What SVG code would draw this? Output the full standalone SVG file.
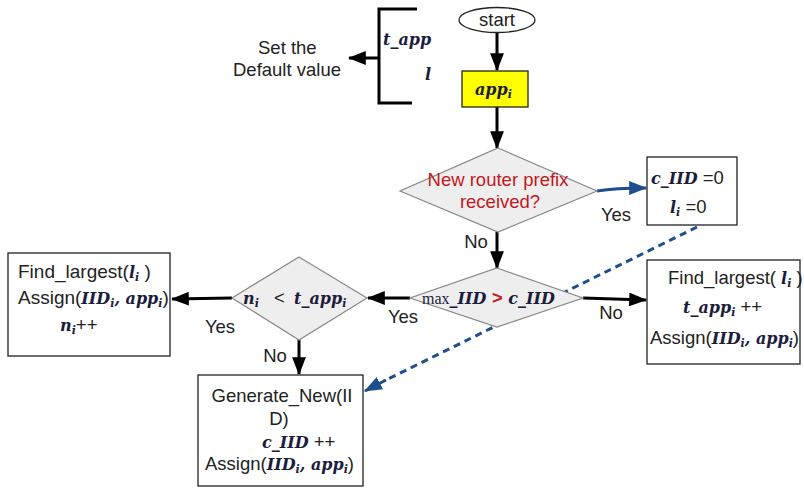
<svg xmlns="http://www.w3.org/2000/svg" width="804" height="488" viewBox="0 0 804 488">
<style>
.t{font-family:"Liberation Sans",Arial,sans-serif;font-size:18.5px;fill:#222}
.b{font-size:19px}
.m{font-family:"DejaVu Serif","Liberation Serif",serif;font-weight:bold;font-style:italic;fill:#1c1c3c;font-size:16px}
.s{font-size:11px}
.red{fill:#c0191e}
.box{fill:#fff;stroke:#222;stroke-width:1.3}
.dia{fill:#eeeeee;stroke:#888;stroke-width:1.2}
.arr{stroke:#000;stroke-width:3;fill:none}
.blue{stroke:#1f4e8c;stroke-width:3;fill:none}
.dash{stroke:#1f4e8c;stroke-width:3;fill:none;stroke-dasharray:7,5}
</style>
<defs>
<marker id="ah" markerWidth="6" markerHeight="4.6" refX="5.6" refY="2.3" orient="auto" markerUnits="strokeWidth"><path d="M0,0 L6,2.3 L0,4.6 z" fill="#000"/></marker>
<marker id="bh" markerWidth="6" markerHeight="4.6" refX="5.6" refY="2.3" orient="auto" markerUnits="strokeWidth"><path d="M0,0 L6,2.3 L0,4.6 z" fill="#1f4e8c"/></marker>
</defs>
<rect width="804" height="488" fill="#fff"/>

<g id="connectors">
<line class="arr" x1="497" y1="33" x2="497" y2="70" marker-end="url(#ah)"/>
<line class="arr" x1="497" y1="107" x2="497" y2="148" marker-end="url(#ah)"/>
<line class="arr" x1="379" y1="58" x2="349" y2="58" marker-end="url(#ah)"/>
<path class="blue" d="M597,191 Q615,188 646,188" marker-end="url(#bh)"/>
<line class="arr" x1="497" y1="232" x2="497" y2="268" marker-end="url(#ah)"/>
<line class="arr" x1="583" y1="298" x2="646" y2="300" marker-end="url(#ah)"/>
<line class="arr" x1="410" y1="298" x2="368" y2="298" marker-end="url(#ah)"/>
<line class="arr" x1="232" y1="298" x2="172" y2="299" marker-end="url(#ah)"/>
<line class="arr" x1="299" y1="340" x2="299" y2="374" marker-end="url(#ah)"/>
<line class="dash" x1="697" y1="227" x2="384" y2="381"/>
<line class="blue" x1="386" y1="380" x2="365" y2="391" marker-end="url(#bh)"/>
<text class="t" x="616" y="221" text-anchor="middle">Yes</text>
<text class="t" x="476" y="248" text-anchor="middle">No</text>
<text class="t" x="611" y="319" text-anchor="middle">No</text>
<text class="t" x="403" y="323" text-anchor="middle">Yes</text>
<text class="t" x="220" y="333" text-anchor="middle">Yes</text>
<text class="t" x="275" y="362" text-anchor="middle">No</text>
</g>

<g id="start">
<ellipse cx="497" cy="20" rx="38" ry="12.5" fill="#fff" stroke="#222" stroke-width="1.3"/>
<text class="t" x="497" y="26" text-anchor="middle">start</text>
</g>

<g id="app">
<rect x="462" y="71" width="66" height="36" fill="#ffff00" stroke="#222" stroke-width="1.3"/>
<text class="m" x="475" y="95">app<tspan class="s" dy="3">i</tspan></text>
</g>

<g id="defaults">
<path d="M417,9 H379 V103 H412" fill="none" stroke="#000" stroke-width="3"/>
<text class="m" x="383" y="45" font-size="17">t_app</text>
<text class="m" x="425" y="80" font-size="18">l</text>
<text class="t" x="258" y="54">Set the</text>
<text class="t" x="233" y="76">Default value</text>
</g>

<g id="decision1">
<polygon class="dia" points="498,148 597,191 498,232 400,191"/>
<text class="t red" x="498" y="186" text-anchor="middle" font-size="18">New router prefix</text>
<text class="t red" x="500" y="208" text-anchor="middle" font-size="18">received?</text>
</g>

<g id="reset">
<rect class="box" x="647" y="157" width="90" height="68"/>
<text x="651" y="184"><tspan class="m">c_IID</tspan><tspan class="t"> =0</tspan></text>
<text x="670" y="213"><tspan class="m" font-size="20">l</tspan><tspan class="m s" dy="3">i</tspan><tspan class="t" dy="-3"> =0</tspan></text>
</g>

<g id="decision2">
<polygon class="dia" points="497,268 583,298 497,327 410,298"/>
<text x="422" y="304"><tspan font-family="Liberation Serif,serif" font-size="16" fill="#1c1c3c">max</tspan><tspan class="m" font-size="15">_IID </tspan><tspan class="t red" font-weight="bold" font-size="20">&gt;</tspan><tspan class="m"> c_IID</tspan></text>
</g>

<g id="decision3">
<polygon class="dia" points="299,257 367,298 299,340 232,298"/>
<text y="304"><tspan class="m" font-size="19" x="243">n</tspan><tspan class="m s" dy="3">i</tspan><tspan class="t" dy="-3" x="274">&lt;</tspan><tspan class="m" font-size="18.5" x="294">t_app</tspan><tspan class="m s" dy="3">i</tspan></text>
</g>

<g id="leftbox">
<rect class="box" x="8" y="253" width="162" height="103"/>
<text x="18" y="278"><tspan class="t b">Find_largest(</tspan><tspan class="m" font-size="21">l</tspan><tspan class="m s" dy="3">i</tspan><tspan class="t b" dy="-3"> )</tspan></text>
<text x="18" y="304"><tspan class="t b">Assign(</tspan><tspan class="m">IID</tspan><tspan class="m s" dy="3">i</tspan><tspan class="m" dy="-3">, app</tspan><tspan class="m s" dy="3">i</tspan><tspan class="t b" dy="-3">)</tspan></text>
<text x="60" y="331"><tspan class="m" font-size="20">n</tspan><tspan class="m s" dy="3">i</tspan><tspan class="t" dy="-3">++</tspan></text>
</g>

<g id="rightbox">
<rect class="box" x="647" y="260" width="153" height="104"/>
<text x="668" y="284"><tspan class="t">Find_largest( </tspan><tspan class="m" font-size="21">l</tspan><tspan class="m s" dy="3">i</tspan><tspan class="t" dy="-3"> )</tspan></text>
<text x="683" y="313"><tspan class="m" font-size="17">t_app</tspan><tspan class="m s" dy="3">i</tspan><tspan class="t" dy="-3"> ++</tspan></text>
<text x="650" y="344"><tspan class="t">Assign(</tspan><tspan class="m">IID</tspan><tspan class="m s" dy="3">i</tspan><tspan class="m" dy="-3">, app</tspan><tspan class="m s" dy="3">i</tspan><tspan class="t" dy="-3">)</tspan></text>
</g>

<g id="generate">
<rect class="box" x="198" y="375" width="165" height="111"/>
<text class="t" x="282" y="402" text-anchor="middle">Generate_New(II</text>
<text class="t" x="279" y="425" text-anchor="middle">D)</text>
<text x="262" y="448"><tspan class="m">c_IID</tspan><tspan class="t"> ++</tspan></text>
<text x="205" y="470"><tspan class="t">Assign(</tspan><tspan class="m">IID</tspan><tspan class="m s" dy="3">i</tspan><tspan class="m" dy="-3">, app</tspan><tspan class="m s" dy="3">i</tspan><tspan class="t" dy="-3">)</tspan></text>
</g>
</svg>
